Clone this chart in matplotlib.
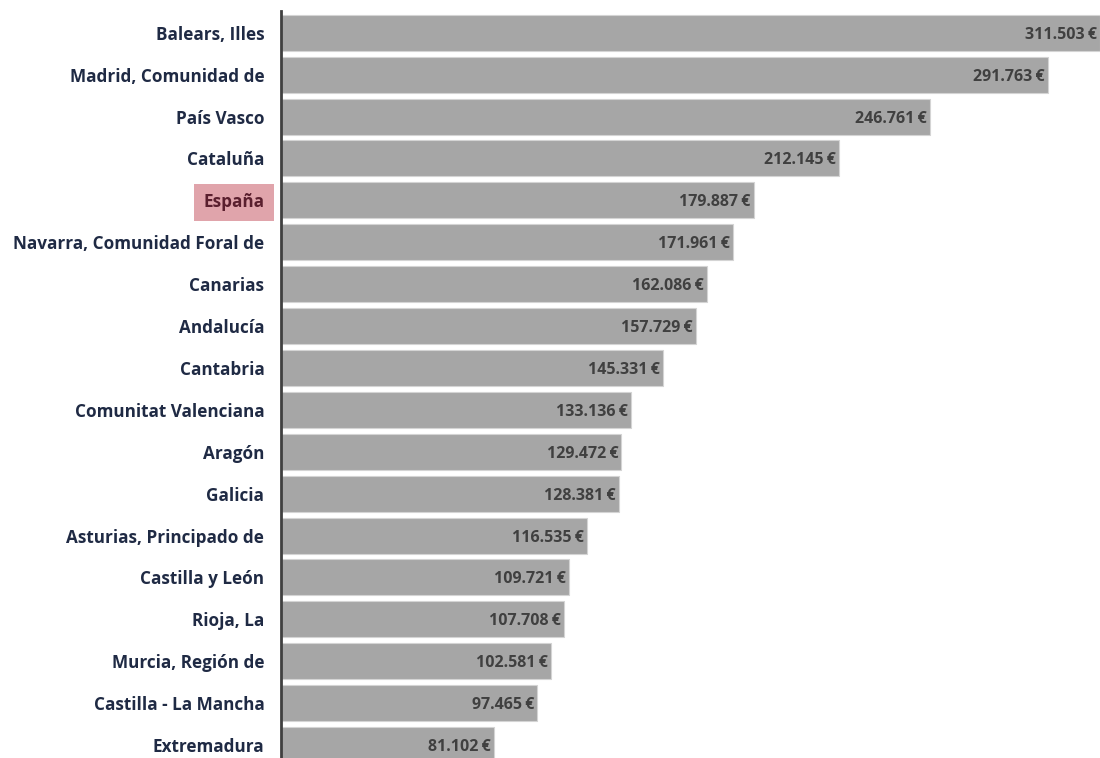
import matplotlib.pyplot as plt

regiones = ['Balears, Illes', 'Madrid, Comunidad de', 'País Vasco', 'Cataluña', 'España',
            'Navarra, Comunidad Foral de', 'Canarias', 'Andalucía', 'Cantabria',
            'Comunitat Valenciana', 'Aragón', 'Galicia', 'Asturias, Principado de',
            'Castilla y León', 'Rioja, La', 'Murcia, Región de', 'Castilla - La Mancha',
            'Extremadura']
valores = [311503, 291763, 246761, 212145, 179887, 171961, 162086, 157729, 145331,
           133136, 129472, 128381, 116535, 109721, 107708, 102581, 97465, 81102]

plt.rcParams['font.family'] = ['Open Sans', 'DejaVu Sans']

fig = plt.figure(figsize=(11, 7.58), dpi=100)
ax = fig.add_axes([281/1100, 0, 1 - 281/1100, 1 - 11/758])

y = list(range(len(regiones)))
ax.barh(y, valores, height=0.86, color='#a6a6a6', edgecolor='#d4d4d4', linewidth=0.8)

for i, v in enumerate(valores):
    txt = '{:,}'.format(v).replace(',', '.') + '\u2009€'
    ax.text(v - 1200, i, txt, ha='right', va='center_baseline', fontsize=11.5,
            fontweight='bold', color='#404040')

ax.set_xlim(0, 311503)
ax.set_ylim(17.31, -0.52)
ax.set_yticks(y)
ax.set_yticklabels(regiones, fontsize=12.3, fontweight='bold', color='#1f2a44',
                   va='center_baseline')
ax.tick_params(axis='y', length=0, pad=12)
ax.set_xticks([])
for s in ['top', 'right', 'bottom']:
    ax.spines[s].set_visible(False)
ax.spines['left'].set_linewidth(2)
ax.spines['left'].set_color('#404040')

# España resaltada
lab = ax.get_yticklabels()[4]
lab.set_color('#5a1f2e')
lab.set_bbox(dict(facecolor='#e0a4ab', edgecolor='none', pad=7))

plt.savefig('out.png')
plt.close()
